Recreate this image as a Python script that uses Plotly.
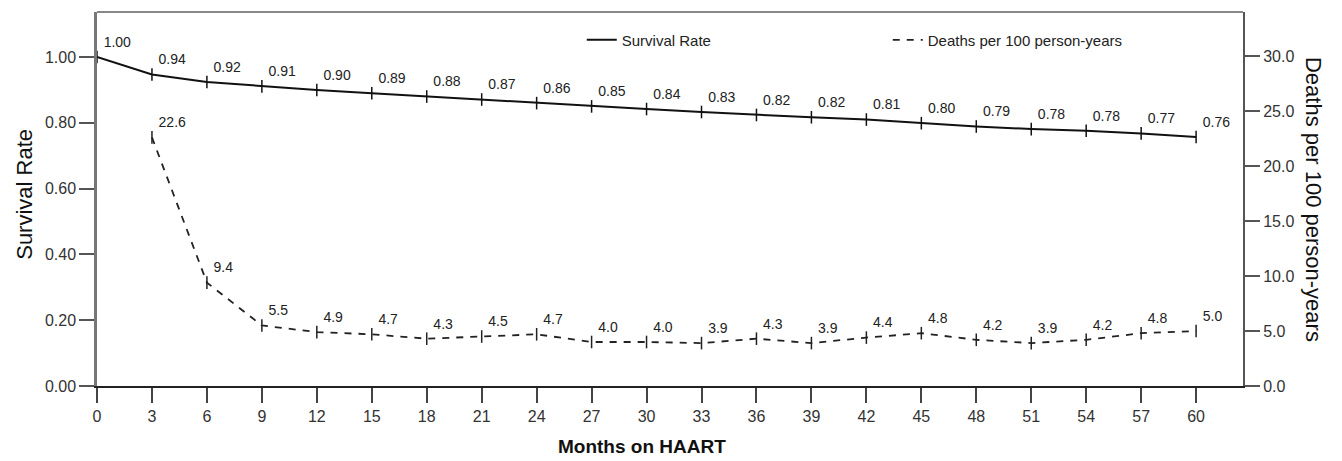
import plotly.graph_objects as go

months = [0, 3, 6, 9, 12, 15, 18, 21, 24, 27, 30, 33, 36, 39, 42, 45, 48, 51, 54, 57, 60]
# plotted survival and the printed labels
survival_rate = [1.000, 0.947, 0.924, 0.911, 0.900, 0.890, 0.880, 0.871, 0.860, 0.850, 0.842,
                 0.833, 0.824, 0.817, 0.810, 0.799, 0.789, 0.781, 0.776, 0.768, 0.757]
survival_labels = ["1.00", "0.94", "0.92", "0.91", "0.90", "0.89", "0.88", "0.87", "0.86",
                   "0.85", "0.84", "0.83", "0.82", "0.82", "0.81", "0.80", "0.79", "0.78",
                   "0.78", "0.77", "0.76"]
death_months = [3, 6, 9, 12, 15, 18, 21, 24, 27, 30, 33, 36, 39, 42, 45, 48, 51, 54, 57, 60]
deaths_per_100py = [22.6, 9.4, 5.5, 4.9, 4.7, 4.3, 4.5, 4.7, 4.0, 4.0, 3.9, 4.3, 3.9,
                    4.4, 4.8, 4.2, 3.9, 4.2, 4.8, 5.0]
left_ticks = [0.0, 0.2, 0.4, 0.6, 0.8, 1.0]
right_ticks = [0, 5, 10, 15, 20, 25, 30]

FONT = "Liberation Sans, Arial, sans-serif"
SURV_LINE = dict(color="#111", width=2)
DEATH_LINE = dict(color="#222", width=1.8, dash="7px,7px")

fig = go.Figure()
fig.add_trace(go.Scatter(
    x=months, y=survival_rate, name="Survival Rate",
    mode="lines+markers+text", showlegend=False,
    text=survival_labels, textposition="top right",
    textfont=dict(family=FONT, size=14, color="#222"),
    line=SURV_LINE,
    marker=dict(symbol="line-ns", size=9, line=dict(width=1.5, color="#111")),
))
fig.add_trace(go.Scatter(
    x=death_months, y=deaths_per_100py, name="Deaths per 100 person-years",
    yaxis="y2", mode="lines+markers+text", showlegend=False,
    text=[f"{v:.1f}" for v in deaths_per_100py], textposition="top right",
    textfont=dict(family=FONT, size=14, color="#222"),
    line=DEATH_LINE,
    marker=dict(symbol="line-ns", size=9, line=dict(width=1.5, color="#222")),
))
# legend entries (line only, as in the reference)
fig.add_trace(go.Scatter(x=[None], y=[None], name="Survival Rate", mode="lines",
                         line=SURV_LINE, legend="legend", showlegend=True))
fig.add_trace(go.Scatter(x=[None], y=[None], name="Deaths per 100 person-years",
                         mode="lines", line=DEATH_LINE, legend="legend2",
                         showlegend=True))

fig.update_layout(
    width=1342, height=461,
    margin=dict(l=97, r=99, t=12, b=75),
    paper_bgcolor="white", plot_bgcolor="white",
    showlegend=True,
    font=dict(family=FONT, size=16, color="#333"),
    xaxis=dict(range=[0, 62.56], tickvals=months, ticks="outside", ticklen=15,
               tickwidth=1.5, tickcolor="#444", showline=True, linecolor="#222",
               linewidth=2, showgrid=False, zeroline=False, automargin=False,
               tickfont=dict(size=16, color="#333")),
    yaxis=dict(range=[0, 1.137], tickvals=left_ticks,
               ticktext=[f"{v:.2f}" for v in left_ticks],
               ticks="outside", ticklen=15, tickwidth=1.5, tickcolor="#555",
               showline=True, linecolor="#777", linewidth=2.5, showgrid=False,
               zeroline=False, automargin=False, tickfont=dict(size=16, color="#333")),
    yaxis2=dict(range=[0, 34.0], tickvals=right_ticks,
                ticktext=[f"{v:.1f}" for v in right_ticks],
                overlaying="y", side="right", anchor="x", automargin=False,
                ticks="outside", ticklen=15, tickwidth=1.5, tickcolor="#555",
                showline=True, linecolor="#555", linewidth=2, showgrid=False,
                zeroline=False, tickfont=dict(size=16, color="#333")),
    legend=dict(x=0.423, y=0.925, xanchor="left", yanchor="middle",
                orientation="h", bgcolor="rgba(0,0,0,0)", visible=True,
                font=dict(size=15, color="#222")),
    legend2=dict(x=0.690, y=0.925, xanchor="left", yanchor="middle",
                 orientation="h", bgcolor="rgba(0,0,0,0)", visible=True,
                 font=dict(size=15, color="#222")),
    shapes=[dict(type="line", xref="paper", yref="paper", x0=0, x1=1, y0=1, y1=1,
                 line=dict(color="#888", width=2))],
    annotations=[
        dict(text="Survival Rate", textangle=-90, xref="paper", yref="paper",
             x=-0.064, y=0.513, xanchor="center", yanchor="middle", showarrow=False,
             font=dict(size=22, color="#111")),
        dict(text="Deaths per 100 person-years", textangle=90, xref="paper", yref="paper",
             x=1.062, y=0.5, xanchor="center", yanchor="middle", showarrow=False,
             font=dict(size=22, color="#111")),
        dict(text="<b>Months on HAART</b>", xref="paper", yref="paper",
             x=0.476, y=-0.163, xanchor="center", yanchor="middle", showarrow=False,
             font=dict(size=19, color="#111")),
    ],
)

fig.write_html("out.html", post_script="document.body.style.margin='0';",
               config={"displayModeBar": False})
